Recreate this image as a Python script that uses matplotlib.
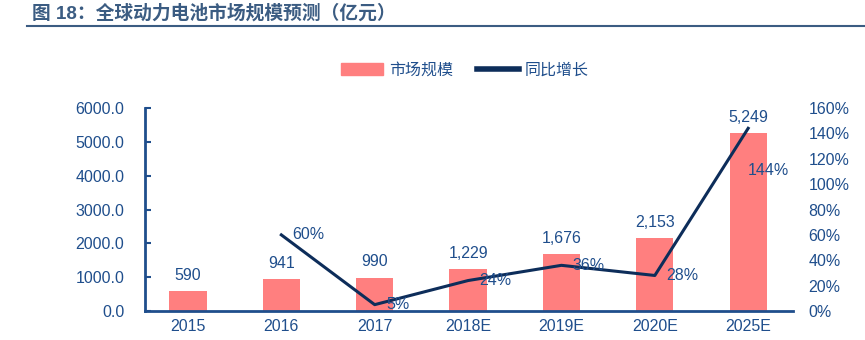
import matplotlib.pyplot as plt
import numpy as np
from matplotlib.lines import Line2D
from matplotlib.patches import Patch

plt.rcParams['font.family'] = ['Liberation Sans', 'Noto Sans CJK SC', 'DejaVu Sans']

years = ['2015', '2016', '2017', '2018E', '2019E', '2020E', '2025E']
market = [590, 941, 990, 1229, 1676, 2153, 5249]
growth = [None, 60, 5, 24, 36, 28, 144]

bar_color = '#FF7F7F'
line_color = '#0D2D5A'
text_color = '#1F4E8C'

fig = plt.figure(figsize=(8.65, 3.4), dpi=100)
ax = fig.add_axes([145 / 865, 29 / 340, (793 - 145) / 865, (311 - 108) / 340])
ax.set_zorder(1)
ax.patch.set_visible(False)
ax2 = ax.twinx()
ax2.set_zorder(0)

x = np.arange(len(years))
ax2.bar(x, market, width=0.4, color=bar_color)
ax2.set_ylim(0, 6000)
for xi, v in zip(x, market):
    ax2.text(xi, v + 250, f'{v:,}', ha='center', va='bottom', fontsize=11.5, color=text_color)

gx = x[1:]
gy = np.array(growth[1:], dtype=float)
ax.plot(gx, gy, color=line_color, lw=2.2)
ax.set_ylim(0, 160)
for i, (xi, v) in enumerate(zip(gx, gy)):
    # last label sits inside the tall bar, below the point
    dy = -33 if i == len(gx) - 1 else 0
    dx = 0.0 if i == len(gx) - 1 else 0.12
    ax.text(xi + dx, v + dy, f'{v:.0f}%', ha='left', va='center', fontsize=11.5, color=text_color)

ax.set_xlim(-0.46, 6.48)

# left axis: market size, right axis: growth rate
ax.yaxis.tick_right()
ax2.yaxis.tick_left()
ax2.set_yticks(np.arange(0, 6001, 1000))
ax2.set_yticklabels([f'{v:.1f}' for v in np.arange(0, 6001, 1000)])
ax.set_yticks(np.arange(0, 161, 20))
ax.set_yticklabels([f'{v}%' for v in range(0, 161, 20)])
ax.set_xticks(x)
ax.set_xticklabels(years)

for a in (ax, ax2):
    for s in a.spines.values():
        s.set_visible(False)
    a.tick_params(colors=text_color, labelsize=11.5)
ax2.spines['left'].set_visible(True)
ax2.spines['left'].set_color(text_color)
ax2.spines['left'].set_linewidth(2)
ax2.spines['bottom'].set_visible(True)
ax2.spines['bottom'].set_color(text_color)
ax2.spines['bottom'].set_linewidth(2)
ax2.tick_params(axis='y', direction='in', length=4, width=1.5, pad=15)
ax.tick_params(axis='y', length=0, pad=11)
ax.tick_params(axis='x', length=0, pad=6)

handles = [Patch(color=bar_color), Line2D([], [], color=line_color, lw=4)]
fig.legend(handles, ['市场规模', '同比增长'], loc='center', bbox_to_anchor=(465 / 865, 1 - 70 / 340),
           ncol=2, frameon=False, fontsize=11.5, labelcolor=text_color,
           handlelength=2.6, handleheight=0.8, columnspacing=1.5, handletextpad=0.4)

fig.text(32 / 865, 1 - 13 / 340, '图 18：全球动力电池市场规模预测（亿元）', fontsize=13.5,
         fontweight='bold', color='#3B5C82', va='center', ha='left')
fig.add_artist(Line2D([27 / 865, 1], [1 - 26 / 340] * 2, color='#3B5C82', lw=1.5))

fig.savefig('out.png', dpi=100)
